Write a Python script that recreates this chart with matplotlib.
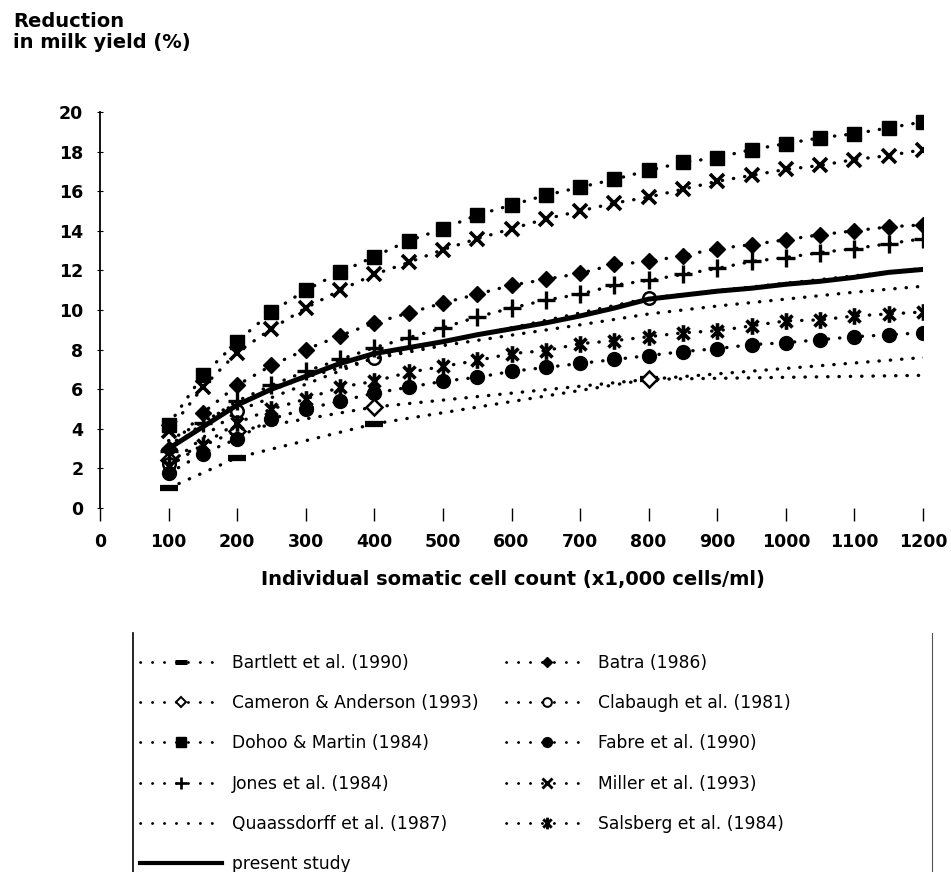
import matplotlib
matplotlib.use("Agg")
import matplotlib.pyplot as plt
from matplotlib.lines import Line2D
from matplotlib.path import Path

plt.rcParams['font.family'] = ['DejaVu Sans']

# Individual somatic cell count (x1,000 cells/ml)
scc = [100, 150, 200, 250, 300, 350, 400, 450, 500, 550, 600, 650,
       700, 750, 800, 850, 900, 950, 1000, 1050, 1100, 1150, 1200]

# Studies reported on a doubling (linear score) scale
scc_ls = [100, 200, 400, 800, 1600]

# Quaassdorff et al. curve points
scc_q = [100, 200, 300, 400, 500, 600, 700, 800, 900, 1000, 1100, 1200]

# Reduction in milk yield (%)
dohoo = [4.2, 6.7, 8.4, 9.9, 11.0, 11.9, 12.7, 13.5, 14.1, 14.8, 15.3, 15.8,
         16.2, 16.6, 17.05, 17.45, 17.7, 18.1, 18.4, 18.7, 18.9, 19.2, 19.5]
miller = [3.9, 6.1, 7.85, 9.05, 10.1, 11.0, 11.8, 12.4, 13.05, 13.6, 14.1, 14.6,
          15.0, 15.4, 15.7, 16.1, 16.5, 16.8, 17.1, 17.3, 17.6, 17.8, 18.1]
batra = [3.0, 4.8, 6.2, 7.2, 8.0, 8.7, 9.35, 9.85, 10.35, 10.8, 11.25, 11.55,
         11.85, 12.3, 12.45, 12.75, 13.1, 13.3, 13.55, 13.8, 14.0, 14.2, 14.3]
jones = [2.9, 4.3, 5.4, 6.2, 6.9, 7.5, 8.1, 8.6, 9.1, 9.65, 10.1, 10.5,
         10.8, 11.25, 11.5, 11.8, 12.1, 12.45, 12.65, 12.9, 13.1, 13.35, 13.6]
salsberg = [2.1, 3.2, 4.3, 5.0, 5.5, 6.1, 6.4, 6.85, 7.15, 7.45, 7.8, 7.95,
            8.3, 8.45, 8.65, 8.85, 8.95, 9.2, 9.45, 9.5, 9.7, 9.8, 9.9]
fabre = [1.75, 2.75, 3.5, 4.5, 5.0, 5.4, 5.8, 6.1, 6.4, 6.6, 6.9, 7.1,
         7.3, 7.5, 7.7, 7.9, 8.05, 8.25, 8.35, 8.5, 8.65, 8.75, 8.85]
present = [3.0, 4.1, 5.2, 6.0, 6.65, 7.3, 7.8, 8.1, 8.4, 8.75, 9.05, 9.35,
           9.7, 10.1, 10.55, 10.75, 10.95, 11.1, 11.3, 11.45, 11.65, 11.9, 12.05]
bartlett = [1.0, 2.55, 4.25, 6.5, 8.7]
cameron = [2.4, 3.9, 5.1, 6.5, 6.9]
clabaugh = [2.2, 4.9, 7.6, 10.6, 13.6]
quaassdorff = [3.4, 5.3, 6.6, 7.55, 8.2, 8.73, 9.25, 9.8, 10.2, 10.55, 10.9, 11.2]

x_ticks = [0, 100, 200, 300, 400, 500, 600, 700, 800, 900, 1000, 1100, 1200]
y_ticks = [0, 2, 4, 6, 8, 10, 12, 14, 16, 18, 20]

W, H = 951, 872
fig = plt.figure(figsize=(W / 100, H / 100), dpi=100)
ax = fig.add_axes([100 / W, 1 - 508 / H, 823 / W, 396 / H])

# star marker: vertical bar crossed by an X
star = Path([(0, -1), (0, 1), (-0.72, -0.72), (0.72, 0.72), (-0.72, 0.72), (0.72, -0.72)],
            [Path.MOVETO, Path.LINETO, Path.MOVETO, Path.LINETO, Path.MOVETO, Path.LINETO])

dot = dict(color='black', linewidth=2.4, linestyle=(0, (0.1, 3.3)),
           dash_capstyle='round')

series = [
    ("Bartlett et al. (1990)", scc_ls, bartlett, dict(marker='_', ms=13, mew=4.5)),
    ("Batra (1986)", scc, batra, dict(marker='D', ms=8, mfc='black', mec='black')),
    ("Cameron & Anderson (1993)", scc_ls, cameron, dict(marker='D', ms=8, mfc='white', mec='black', mew=1.8)),
    ("Clabaugh et al. (1981)", scc_ls, clabaugh, dict(marker='o', ms=9, mfc='white', mec='black', mew=1.8)),
    ("Dohoo & Martin (1984)", scc, dohoo, dict(marker='s', ms=10, mfc='black', mec='black')),
    ("Fabre et al. (1990)", scc, fabre, dict(marker='o', ms=10, mfc='black', mec='black')),
    ("Jones et al. (1984)", scc, jones, dict(marker='+', ms=13, mew=2.4)),
    ("Miller et al. (1993)", scc, miller, dict(marker='x', ms=10, mew=2.6)),
    ("Quaassdorff et al. (1987)", scc_q, quaassdorff, dict(marker='None')),
    ("Salsberg et al. (1984)", scc, salsberg, dict(marker=star, ms=12, mew=2.6)),
]

for label, xs, ys, mk in series:
    ax.plot(xs, ys, **dot, **mk)

ax.plot(scc, present, color='black', linewidth=3.6, solid_capstyle='round', zorder=5)

ax.set_xlim(0, 1200)
ax.set_ylim(0, 20)
ax.set_xticks(x_ticks)
ax.set_yticks(y_ticks)
for s in ['top', 'right', 'bottom']:
    ax.spines[s].set_visible(False)
ax.spines['left'].set_linewidth(1.3)
ax.tick_params(axis='x', direction='out', length=9, width=1.0, pad=9,
               labelsize=12.5)
ax.tick_params(axis='y', direction='inout', length=4, width=0.8, pad=10,
               labelsize=12.5)
for t in ax.get_xticklabels() + ax.get_yticklabels():
    t.set_fontweight('bold')

fig.text(13 / W, 1 - 27 / H, "Reduction", ha='left', va='baseline',
         fontsize=14, fontweight='bold')
fig.text(13 / W, 1 - 48 / H, "in milk yield (%)", ha='left', va='baseline',
         fontsize=14, fontweight='bold')
fig.text(513 / W, 1 - 580 / H, "Individual somatic cell count (x1,000 cells/ml)",
         ha='center', va='center', fontsize=14, fontweight='bold')

# Legend frame sides
fig.add_artist(Line2D([133 / W, 133 / W], [0, 1 - 633 / H], transform=fig.transFigure,
                      color='black', linewidth=1.2))
fig.add_artist(Line2D([932 / W, 932 / W], [0, 1 - 633 / H], transform=fig.transFigure,
                      color='#555555', linewidth=0.8))

def proxy(mk):
    m = dict(mk)
    if 'ms' in m:
        m['ms'] = m['ms'] * 0.7
    if 'mew' in m:
        m['mew'] = m['mew'] * 0.8
    return Line2D([], [], color='black', linewidth=2.0, linestyle=(0, (0.1, 4.2)),
                  dash_capstyle='round', **m)

handles = {lab: proxy(mk) for lab, _, _, mk in series}
handles["present study"] = Line2D([], [], color='black', linewidth=3.0)

col1 = ["Bartlett et al. (1990)", "Cameron & Anderson (1993)", "Dohoo & Martin (1984)",
        "Jones et al. (1984)", "Quaassdorff et al. (1987)", "present study"]
col2 = ["Batra (1986)", "Clabaugh et al. (1981)", "Fabre et al. (1990)",
        "Miller et al. (1993)", "Salsberg et al. (1984)"]
order = col1 + col2
fig.legend([handles[k] for k in order], order, ncol=2, frameon=False,
           loc='upper left', bbox_to_anchor=(140 / W, 1 - 654 / H),
           fontsize=12.3, handlelength=4.8, handletextpad=0.6,
           columnspacing=1.6, labelspacing=1.3, borderpad=0, borderaxespad=0)

fig.savefig("out.png", dpi=100)
